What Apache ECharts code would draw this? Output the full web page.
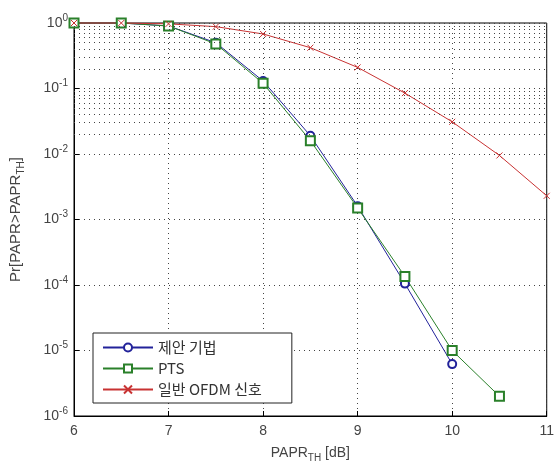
<!DOCTYPE html>
<html><head><meta charset="utf-8">
<script src="https://cdn.jsdelivr.net/npm/echarts@6/dist/echarts.min.js"></script>
<style>html,body{margin:0;padding:0;background:#fff}#c{width:557px;height:468px}</style>
</head><body><div id="c"></div>
<script>
const xVals = [6, 6.5, 7, 7.5, 8, 8.5, 9, 9.5, 10, 10.5, 11];
const proposed = [1, 1, 0.9, 0.5, 0.13, 0.019, 0.0016, 1.05e-4, 6.2e-6];
const pts = [1, 1, 0.9, 0.48, 0.12, 0.016, 0.0015, 1.35e-4, 1.0e-5, 2.0e-6];
const ofdm = [1, 1, 0.97, 0.88, 0.68, 0.42, 0.21, 0.085, 0.031, 0.0095, 0.0023];
const seriesNames = ['제안 기법', 'PTS', '일반 OFDM 신호'];
const xTicks = [6, 7, 8, 9, 10, 11];
const yExps = [0, -1, -2, -3, -4, -5, -6];

const font = "'Liberation Sans', Arial, sans-serif";
const txt = '#444';
function pairs(ys){ return ys.map((y,i)=>[xVals[i], y]); }

// minor horizontal grid values (2..9 x 10^k)
const minorVals = [];
for (let k = -6; k < 0; k++) for (let m = 2; m <= 9; m++) minorVals.push(m * Math.pow(10, k));

const chart = echarts.init(document.getElementById('c'));
const gridLine = {color: '#444', width: 1, type: [1, 4]};
chart.setOption({
  animation: false,
  grid: {left: 74, right: 5, top: 23, bottom: 46, show: true, borderColor: '#000', borderWidth: 1, backgroundColor: 'transparent'},
  xAxis: {
    type: 'value', min: 6, max: 11, interval: 1,
    axisLine: {lineStyle: {color: '#000'}},
    axisTick: {inside: true, length: 5, lineStyle: {color: '#000'}},
    axisLabel: {color: txt, fontFamily: font, fontSize: 14, margin: 8},
    splitLine: {show: true, lineStyle: gridLine},
    name: '{m|PAPR}{s|TH}{m| [dB]}', nameLocation: 'middle', nameGap: 27,
    nameTextStyle: {rich: {m: {color: txt, fontFamily: font, fontSize: 14}, s: {color: txt, fontFamily: font, fontSize: 10, padding: [10, 0, 0, 0]}}}
  },
  yAxis: {
    type: 'log', logBase: 10, min: 1e-6, max: 1,
    axisLine: {lineStyle: {color: '#000'}},
    axisTick: {inside: true, length: 5, lineStyle: {color: '#000'}},
    axisLabel: {
      margin: 6,
      formatter: v => '{b|10}{s|' + Math.round(Math.log10(v)) + '}',
      rich: {b: {color: txt, fontFamily: font, fontSize: 14}, s: {color: txt, fontFamily: font, fontSize: 10, padding: [0, 0, 10, 0]}}
    },
    splitLine: {show: true, lineStyle: gridLine},
    name: '{m|Pr[PAPR>PAPR}{s|TH}{m|]}', nameLocation: 'middle', nameGap: 48, nameRotate: 90,
    nameTextStyle: {rich: {m: {color: txt, fontFamily: font, fontSize: 15}, s: {color: txt, fontFamily: font, fontSize: 10, padding: [10, 0, 0, 0]}}}
  },
  legend: {
    left: 93, top: 333, orient: 'vertical', backgroundColor: '#fff',
    borderColor: '#222', borderWidth: 1, padding: [7, 30, 6, 9], itemGap: 6,
    itemWidth: 50, itemHeight: 10,
    textStyle: {fontFamily: "'Noto Sans CJK KR', 'Liberation Sans', sans-serif", fontSize: 15, color: '#333', padding: [0, 0, 0, 0]},
    data: seriesNames
  },
  series: [
    {type: 'line', name: 'grid', data: [], silent: true,
      markLine: {silent: true, symbol: 'none', label: {show: false}, lineStyle: gridLine, animation: false,
        data: minorVals.map(v => ({yAxis: v}))}},
    {type: 'line', name: seriesNames[0], data: pairs(proposed), clip: false,
      symbol: 'emptyCircle', symbolSize: 8, color: '#22229a',
      lineStyle: {width: 1, color: '#22229a'}, itemStyle: {color: '#22229a', borderWidth: 1}},
    {type: 'line', name: seriesNames[1], data: pairs(pts), clip: false,
      symbol: 'emptyRect', symbolSize: 9, color: '#2a802a',
      lineStyle: {width: 1, color: '#2a802a'}, itemStyle: {color: '#2a802a', borderWidth: 1}},
    {type: 'line', name: seriesNames[2], data: pairs(ofdm), clip: false,
      symbol: 'path://M0,0L10,10M10,0L0,10', symbolSize: 6, color: '#c83232',
      lineStyle: {width: 1, color: '#c83232'}, itemStyle: {color: 'none', borderColor: '#c83232', borderWidth: 1}}
  ]
});
</script></body></html>
